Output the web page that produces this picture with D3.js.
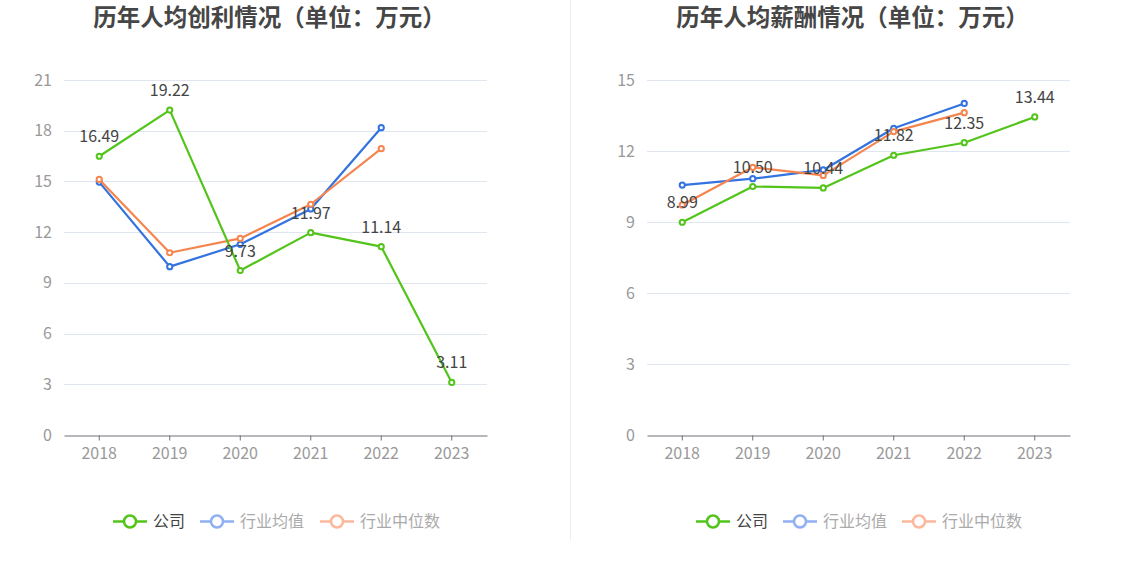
<!DOCTYPE html>
<html><head><meta charset="utf-8">
<script src="https://cdn.jsdelivr.net/npm/d3@7/dist/d3.min.js"></script>
<style>
html,body{margin:0;padding:0;background:#fff;}
svg{display:block;font-family:"Noto Sans CJK SC","Noto Sans",sans-serif;}
</style></head>
<body>
<svg id="c" width="1134" height="582"></svg>
<script>
const years = ["2018","2019","2020","2021","2022","2023"];
const seriesNames = ["公司","行业均值","行业中位数"];
const seriesColors = ["#52c41a","#3373e0","#f5854f"];
const legendIconColors = ["#52c41a","#8fb0f2","#fdb89c"];
const legendTextColors = ["#444","#aaa","#aaa"];

const title1 = "历年人均创利情况（单位：万元）";
const profitCompany = [16.49, 19.22, 9.73, 11.97, 11.14, 3.11];
const profitMean    = [14.96, 9.96, 11.28, 13.37, 18.18, null];
const profitMedian  = [15.12, 10.78, 11.63, 13.65, 16.94, null];
const profitTicks = [0,3,6,9,12,15,18,21];

const title2 = "历年人均薪酬情况（单位：万元）";
const salaryCompany = [8.99, 10.50, 10.44, 11.82, 12.35, 13.44];
const salaryMean    = [10.56, 10.83, 11.20, 12.96, 14.01, null];
const salaryMedian  = [9.72, 11.31, 10.97, 12.82, 13.62, null];
const salaryTicks = [0,3,6,9,12,15];

const svg = d3.select("#c");

// divider
svg.append("line").attr("x1",570.5).attr("x2",570.5).attr("y1",0).attr("y2",541)
  .attr("stroke","#eceef2").attr("stroke-width",1);

function drawChart(opt){
  const g = svg.append("g");
  const x = d3.scaleBand().domain(years).range([opt.x0, opt.x1]);
  const y = d3.scaleLinear().domain([0, d3.max(opt.ticks)]).range([435, 80]);
  const cx = d => x(d) + x.bandwidth()/2;

  g.append("text").attr("x",(opt.x0+opt.x1)/2 - 6).attr("y",26).attr("text-anchor","middle")
    .attr("font-size",23.5).attr("font-weight","bold").attr("fill","#464646").text(opt.title);

  // grid
  g.selectAll(".grid").data(opt.ticks.filter(t=>t>0)).join("line")
    .attr("x1",opt.x0).attr("x2",opt.x1)
    .attr("y1",d=>Math.round(y(d))+0.5).attr("y2",d=>Math.round(y(d))+0.5)
    .attr("stroke","#e0e6f1").attr("stroke-width",1);

  // y labels
  g.selectAll(".yl").data(opt.ticks).join("text")
    .attr("x",opt.x0-12).attr("y",d=>y(d)).attr("dy","0.35em")
    .attr("text-anchor","end").attr("font-size",16).attr("fill","#999").text(d=>d);

  // x axis
  const xa = d3.axisBottom(x).tickSize(5).tickPadding(7).tickSizeOuter(0);
  const ax = g.append("g").attr("transform","translate(0,435.5)").call(xa);
  ax.select(".domain").attr("stroke","#6e7079");
  ax.selectAll(".tick line").attr("stroke","#6e7079");
  ax.selectAll(".tick text").attr("font-size",16).attr("fill","#999")
    .attr("font-family",'"Noto Sans CJK SC","Noto Sans",sans-serif');

  const series = [opt.company, opt.mean, opt.median];
  [1,2,0].forEach(si=>{
    const data = years.map((yr,i)=>({yr, v: series[si][i]})).filter(d=>d.v!==null);
    const line = d3.line().x(d=>cx(d.yr)).y(d=>y(d.v));
    g.append("path").datum(data).attr("d",line).attr("fill","none")
      .attr("stroke",seriesColors[si]).attr("stroke-width",2.2).attr("stroke-linejoin","round");
    g.selectAll(null).data(data).join("circle")
      .attr("cx",d=>cx(d.yr)).attr("cy",d=>y(d.v)).attr("r",2.6)
      .attr("fill","#fff").attr("stroke",seriesColors[si]).attr("stroke-width",2);
  });

  // labels for company
  g.selectAll(".lbl").data(years.map((yr,i)=>({yr, v: opt.company[i]}))).join("text")
    .attr("x",d=>cx(d.yr)).attr("y",d=>y(d.v)-14)
    .attr("text-anchor","middle").attr("font-size",16).attr("fill","#444")
    .text(d=>d.v.toFixed(2));

  // legend
  const lg = g.append("g");
  opt.legendX.forEach((lx,i)=>{
    lg.append("line").attr("x1",lx).attr("x2",lx+34).attr("y1",521.5).attr("y2",521.5)
      .attr("stroke",legendIconColors[i]).attr("stroke-width",2.5);
    lg.append("circle").attr("cx",lx+17).attr("cy",521.5).attr("r",6)
      .attr("fill","#fff").attr("stroke",legendIconColors[i]).attr("stroke-width",2.5);
    lg.append("text").attr("x",lx+40).attr("y",521.5).attr("dy","0.35em")
      .attr("font-size",16).attr("fill",legendTextColors[i]).text(seriesNames[i]);
  });
}

drawChart({x0:64, x1:487, ticks:profitTicks, title:title1,
  company:profitCompany, mean:profitMean, median:profitMedian, legendX:[113,200,320]});
drawChart({x0:647, x1:1070, ticks:salaryTicks, title:title2,
  company:salaryCompany, mean:salaryMean, median:salaryMedian, legendX:[696,783,902]});
</script>
</body></html>
